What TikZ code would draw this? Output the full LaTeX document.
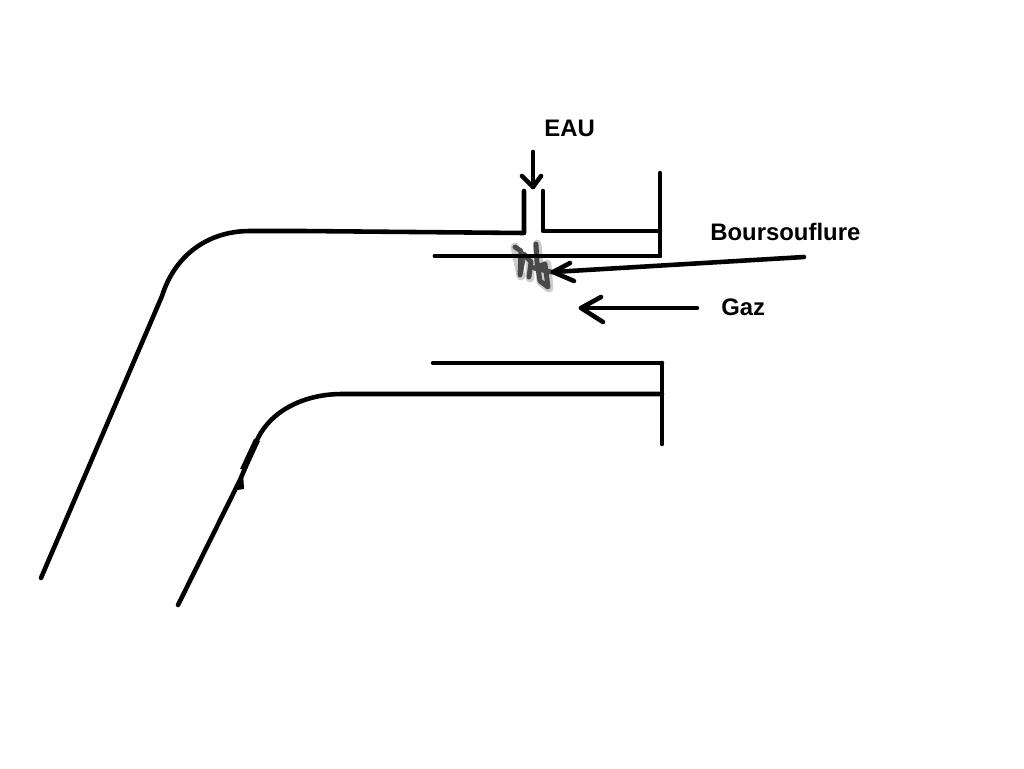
\documentclass[tikz,border=0pt]{standalone}
\usepackage{fontspec}
\setmainfont{Liberation Sans}
\begin{document}
\begin{tikzpicture}[x=0.02cm,y=-0.02cm,
	wall/.style={line width=2.6pt,line cap=round,line join=round},
	head/.style={line width=2.6pt,line cap=round,line join=round},
	lab/.style={inner sep=0pt,font=\fontsize{13.6}{15}\bfseries\selectfont}
	]
	\useasboundingbox (0,0) rectangle (1024,768);
	% outer wall
	\draw[wall] (41,578) coordinate (o1) -- (162,296)
	.. controls (175,255) and (208,231) .. (250,231) -- (303,231) -- (524,233) coordinate (o2) -- (524,191) coordinate (o3);
	\draw[wall] (543,191) coordinate (o4) -- (543,231) coordinate (o5) -- (660,231);
	\draw[wall] (660,173) coordinate (o6) -- (660,256) coordinate (o7) -- (435,256) coordinate (o8);
	% lower wall
	\draw[wall] (178,605) coordinate (u1) -- (240,480) -- (258,438)
	.. controls (272,410) and (305,394) .. (342,394) -- (662,394) coordinate (u2);
	\draw[wall] (662,363) coordinate (u3) -- (433,363) coordinate (u4);
	\draw[wall] (662,363) -- (662,444) coordinate (u5);
	\fill (237,490) -- (243,472) -- (244,489) -- cycle;
	\draw[line width=3.6pt] (243,470) -- (257,440);
	% blister
	\draw[line width=5pt,gray,opacity=0.4,line cap=round,line join=round] (515,247) -- (521,276) (530,258) -- (530,278) (537,244) -- (541,282) -- (549,288) -- (547,264);
	\draw[line width=2.8pt,black!80,opacity=0.85,line cap=round,line join=round] (515,247) -- (521,251) -- (520,275) -- (524,254) -- (531,262) -- (529,277)
	(536,244) -- (537,262) -- (540,281) -- (548,287) -- (545,264) -- (534,268) -- (551,272);
	\draw[wall] (435,256) -- (660,256);
	% arrows
	\draw[head] (533,152) coordinate (e1) -- (533,187) coordinate (e2);
	\draw[head] (522,176) -- (e2) -- (541,176);
	\draw[head] (804,257) coordinate (b1) -- (553,272) coordinate (b2);
	\draw[head] (570,263) -- (b2) -- (574,281);
	\draw[head] (697,308) coordinate (g1) -- (581,308) coordinate (g2);
	\draw[head] (601,297) -- (g2) -- (603,322);
	% labels
	\node[lab,anchor=base west] (eau) at (544,136) {EAU};
	\node[lab,anchor=base west] (bours) at (710,240) {Boursouflure};
	\node[lab,anchor=base west] (gaz) at (721,315) {Gaz};
\end{tikzpicture}
\end{document}
